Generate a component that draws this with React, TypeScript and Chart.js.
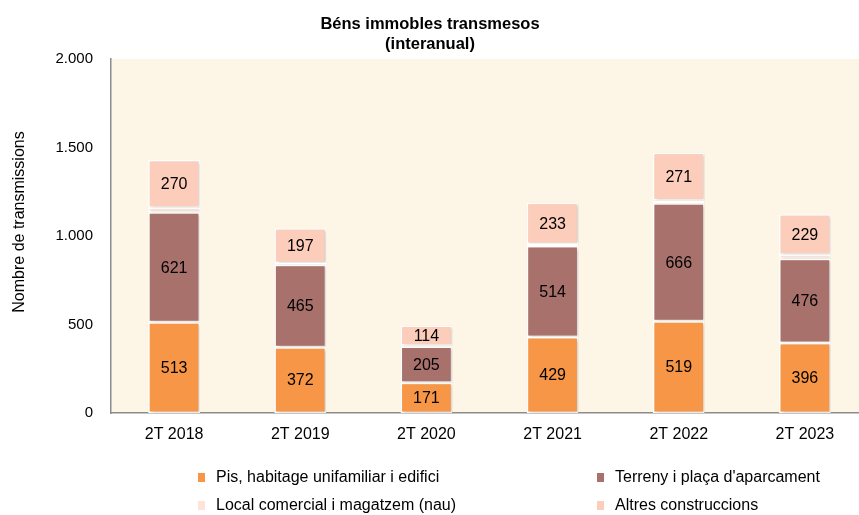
import React, { useEffect, useRef } from "react";
import { Chart, registerables } from "chart.js";

Chart.register(...registerables);

const categories = ["2T 2018", "2T 2019", "2T 2020", "2T 2021", "2T 2022", "2T 2023"];
const pis = [513, 372, 171, 429, 519, 396];
const terreny = [621, 465, 205, 514, 666, 476];
const local = [25, 10, 5, 12, 15, 22];
const altres = [270, 197, 114, 233, 271, 229];
const seriesNames = [
  "Pis, habitage unifamiliar i edifici",
  "Terreny i plaça d'aparcament",
  "Local comercial i magatzem (nau)",
  "Altres construccions",
];
const seriesColors = ["#F79646", "#A8716C", "#FDE3D8", "#FBCDBA"];
const showLabels = [true, true, false, true];
const titleLines = ["Béns immobles transmesos", "(interanual)"];
const yTitle = "Nombre de transmissions";

const FONT = "'Liberation Sans', Arial, sans-serif";

export default function App() {
  const ref = useRef<HTMLCanvasElement | null>(null);
  useEffect(() => {
    if (!ref.current) return;
    const bgPlugin = {
      id: "bg",
      beforeDraw(chart: any) {
        const { ctx, chartArea: a } = chart;
        ctx.save();
        ctx.fillStyle = "#FDF5E6";
        ctx.fillRect(a.left, a.top, a.right - a.left, a.bottom - a.top);
        ctx.restore();
      },
      beforeDatasetsDraw(chart: any) {
        const ctx = chart.ctx;
        ctx.save();
        ctx.shadowColor = "rgba(0,0,0,0.18)";
        ctx.shadowBlur = 3;
        ctx.shadowOffsetX = 2;
        ctx.shadowOffsetY = 1;
      },
      afterDatasetsDraw(chart: any) {
        const ctx = chart.ctx;
        ctx.restore();
        ctx.save();
        ctx.fillStyle = "#000";
        ctx.font = `16px ${FONT}`;
        ctx.textAlign = "center";
        ctx.textBaseline = "middle";
        chart.data.datasets.forEach((ds: any, i: number) => {
          if (!showLabels[i]) return;
          const meta = chart.getDatasetMeta(i);
          meta.data.forEach((bar: any, j: number) => {
            const y = (bar.y + bar.base) / 2;
            ctx.fillText(String(ds.data[j]), bar.x, y + 1);
          });
        });
        ctx.restore();
      },
      afterDraw(chart: any) {
        const ctx = chart.ctx;
        ctx.save();
        ctx.fillStyle = "#000";
        ctx.textAlign = "center";
        ctx.textBaseline = "middle";
        ctx.font = `bold 16.5px ${FONT}`;
        ctx.fillText(titleLines[0], 430, 24);
        ctx.fillText(titleLines[1], 430, 44);
        // y title
        ctx.save();
        ctx.translate(20, 222);
        ctx.rotate(-Math.PI / 2);
        ctx.font = `16px ${FONT}`;
        ctx.fillText(yTitle, 0, 0);
        ctx.restore();
        // legend
        ctx.font = `16px ${FONT}`;
        ctx.textAlign = "left";
        const pos = [
          [198, 478],
          [597, 478],
          [198, 506],
          [597, 506],
        ];
        seriesNames.forEach((n, i) => {
          const [x, y] = pos[i];
          ctx.fillStyle = seriesColors[i];
          ctx.fillRect(x, y - 5, 7, 9);
          ctx.fillStyle = "#000";
          ctx.fillText(n, x + 18, y);
        });
        ctx.restore();
      },
    };
    const chart = new Chart(ref.current, {
      type: "bar",
      data: {
        labels: categories,
        datasets: [pis, terreny, local, altres].map((d, i) => ({
          label: seriesNames[i],
          data: d,
          backgroundColor: seriesColors[i],
          borderColor: "#FFFFFF",
          borderWidth: 1.5,
          borderSkipped: false,
          barPercentage: 0.41,
          categoryPercentage: 1,
        })),
      },
      options: {
        animation: false,
        responsive: false,
        maintainAspectRatio: false,
        layout: { padding: { top: 59, right: 12, bottom: 72, left: 0 } },
        plugins: { legend: { display: false }, title: { display: false }, tooltip: { enabled: false } },
        scales: {
          x: {
            stacked: true,
            grid: { display: false, drawTicks: false },
            border: { display: true, color: "#8C8C8C", width: 1.5 },
            ticks: { color: "#000", font: { family: FONT, size: 16 }, padding: 12, maxRotation: 0 },
            afterFit(scale: any) {
              scale.height = 30;
            },
          },
          y: {
            stacked: true,
            min: 0,
            max: 2000,
            grid: { display: false, drawTicks: true, tickLength: 4, color: "#8C8C8C" },
            border: { display: true, color: "#8C8C8C", width: 1.5 },
            ticks: {
              stepSize: 500,
              color: "#000",
              font: { family: FONT, size: 15 },
              padding: 14,
              callback: (v: any) => Number(v).toLocaleString("de-DE"),
            },
            afterFit(scale: any) {
              scale.width = 111;
            },
          },
        },
      },
      plugins: [bgPlugin],
    });
    return () => chart.destroy();
  }, []);
  return (
    <div style={{ position: "fixed", left: 0, top: 0, width: 859, height: 515, overflow: "hidden", background: "#fff" }}>
      <canvas ref={ref} width={880} height={515} style={{ width: 880, height: 515, display: "block" }} />
    </div>
  );
}
